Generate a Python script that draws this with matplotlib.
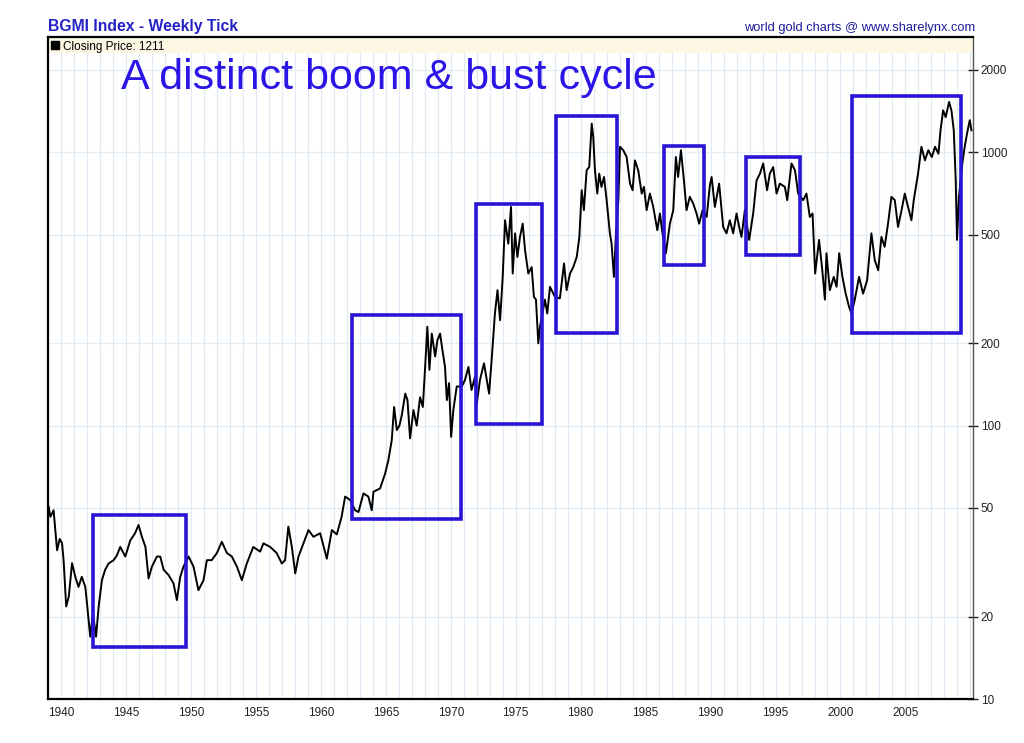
import matplotlib.pyplot as plt
import numpy as np
from matplotlib.patches import Rectangle
from matplotlib.ticker import FixedLocator, NullLocator

plt.rcParams['font.family'] = ['Liberation Sans', 'DejaVu Sans']

# weekly closing price (year, price)
years = [
    1939.05, 1939.18, 1939.43, 1939.7, 1939.9, 1940.08, 1940.2, 1940.4, 1940.6, 1940.85,
    1941.1, 1941.35, 1941.6, 1941.87, 1942.0, 1942.25, 1942.46, 1942.7, 1942.9, 1943.15,
    1943.4, 1943.66, 1944.05, 1944.3, 1944.56, 1944.95, 1945.33, 1945.7, 1945.97, 1946.23,
    1946.5, 1946.74, 1947.0, 1947.38, 1947.64, 1947.9, 1948.28, 1948.66, 1948.92, 1949.18,
    1949.43, 1949.82, 1950.2, 1950.58, 1950.97, 1951.23, 1951.6, 1952.0, 1952.38, 1952.77,
    1953.15, 1953.54, 1953.92, 1954.3, 1954.8, 1955.33, 1955.58, 1956.1, 1956.6, 1957.0,
    1957.25, 1957.5, 1957.77, 1958.03, 1958.28, 1958.66, 1959.05, 1959.43, 1959.95, 1960.46,
    1960.85, 1961.23, 1961.6, 1961.87, 1962.25, 1962.64, 1962.9, 1963.28, 1963.66, 1963.92,
    1964.05, 1964.56, 1964.95, 1965.2, 1965.46, 1965.64, 1965.85, 1966.05, 1966.23, 1966.5,
    1966.67, 1966.87, 1967.13, 1967.38, 1967.64, 1967.85, 1968.03, 1968.2, 1968.36, 1968.54,
    1968.8, 1968.97, 1969.18, 1969.36, 1969.56, 1969.7, 1969.87, 1970.03, 1970.2, 1970.46,
    1970.85, 1971.1, 1971.36, 1971.6, 1971.87, 1972.0, 1972.25, 1972.56, 1972.95, 1973.15,
    1973.4, 1973.6, 1973.8, 1974.0, 1974.18, 1974.43, 1974.64, 1974.77, 1974.95, 1975.13,
    1975.33, 1975.54, 1975.72, 1975.97, 1976.23, 1976.4, 1976.56, 1976.74, 1976.87, 1977.25,
    1977.43, 1977.64, 1978.02, 1978.4, 1978.72, 1978.92, 1979.18, 1979.43, 1979.7, 1979.9,
    1980.08, 1980.25, 1980.46, 1980.66, 1980.85, 1980.97, 1981.1, 1981.28, 1981.43, 1981.6,
    1981.8, 1982.0, 1982.25, 1982.38, 1982.56, 1982.72, 1982.9, 1983.03, 1983.28, 1983.54,
    1983.8, 1984.0, 1984.18, 1984.43, 1984.7, 1984.87, 1985.08, 1985.33, 1985.59, 1985.9,
    1986.1, 1986.3, 1986.56, 1986.87, 1987.13, 1987.33, 1987.5, 1987.72, 1987.95, 1988.15,
    1988.4, 1988.66, 1988.92, 1989.12, 1989.38, 1989.7, 1989.95, 1990.08, 1990.33, 1990.66,
    1990.97, 1991.23, 1991.48, 1991.74, 1992.0, 1992.2, 1992.38, 1992.64, 1992.97, 1993.28,
    1993.54, 1993.8, 1994.05, 1994.35, 1994.56, 1994.82, 1995.08, 1995.33, 1995.72, 1995.9,
    1996.23, 1996.5, 1996.74, 1997.13, 1997.38, 1997.64, 1997.85, 1998.05, 1998.35, 1998.6,
    1998.8, 1998.92, 1999.18, 1999.48, 1999.7, 1999.9, 2000.15, 2000.4, 2000.66, 2000.85,
    2001.1, 2001.43, 2001.74, 2002.05, 2002.38, 2002.64, 2002.9, 2003.15, 2003.4, 2003.66,
    2003.92, 2004.18, 2004.43, 2004.7, 2004.95, 2005.2, 2005.46, 2005.64, 2005.97, 2006.23,
    2006.5, 2006.76, 2007.03, 2007.28, 2007.54, 2007.7, 2007.9, 2008.1, 2008.36, 2008.54,
    2008.72, 2008.87, 2008.97, 2009.12, 2009.38, 2009.56, 2009.74, 2009.95, 2010.08,
]
prices = [
    50.5, 46.4, 49, 35, 38.5, 37.2, 32.2, 21.8, 23.7, 31.4,
    28, 25.7, 28, 25.7, 22.4, 16.9, 20.6, 16.9, 21.8, 27.2,
    29.7, 31.3, 32.2, 33.5, 36, 33.2, 38, 40.4, 43.3, 39.2,
    36, 27.6, 30.5, 33.2, 33.2, 29.7, 28.4, 26.5, 23, 28,
    30.5, 33.2, 30.5, 25, 27.2, 32.2, 32.2, 34.2, 37.6, 34.2,
    33.2, 30.5, 27.2, 31.3, 36, 34.6, 37.1, 36, 34.2, 31.3,
    32.2, 42.7, 36, 28.8, 33.2, 37.1, 41.5, 39.2, 40.4, 32.6,
    41.5, 40, 46.4, 55, 53.5, 49, 48.3, 56.5, 55, 49,
    57.3, 58.9, 66.8, 74.8, 88.5, 117, 96.3, 100, 109, 131,
    124, 89.8, 114, 100, 127, 117, 164, 230, 160, 217,
    179, 205, 217, 189, 164, 124, 143, 91, 114, 139,
    139, 147, 164, 135, 151, 120, 147, 169, 131, 174,
    257, 313, 243, 350, 564, 463, 631, 360, 505, 414,
    490, 548, 438, 360, 380, 296, 289, 200, 230, 289,
    257, 322, 296, 292, 392, 313, 360, 380, 414, 490,
    726, 614, 859, 883, 1273, 1138, 859, 706, 835, 747,
    812, 668, 505, 463, 350, 505, 668, 1047, 1017, 961,
    768, 726, 934, 859, 706, 747, 614, 706, 631, 519,
    597, 505, 427, 548, 614, 961, 812, 1017, 789, 614,
    687, 650, 597, 548, 614, 580, 760, 812, 631, 768,
    533, 505, 564, 505, 597, 533, 490, 614, 478, 597,
    789, 835, 910, 726, 835, 883, 706, 768, 747, 668,
    910, 859, 706, 668, 706, 580, 597, 360, 478, 370,
    289, 427, 313, 350, 322, 427, 350, 304, 272, 257,
    289, 350, 304, 340, 505, 403, 370, 490, 451, 548,
    687, 668, 533, 614, 706, 631, 564, 668, 835, 1047,
    934, 1017, 961, 1047, 988, 1203, 1423, 1345, 1528, 1423,
    1203, 789, 478, 687, 910, 1047, 1170, 1310, 1203,
]

# boom & bust boxes: start year, end year, low, high
box_start = [1942.48, 1962.42, 1971.95, 1978.1, 1986.4, 1992.7, 2000.9]
box_end = [1949.64, 1970.8, 1977.02, 1982.8, 1989.5, 1996.9, 2009.3]
box_low = [15.5, 45.5, 101, 218, 386, 420, 218]
box_high = [47, 254, 645, 1355, 1052, 960, 1603]

x_ticks = list(range(1940, 2010, 5))
y_ticks = [10, 20, 50, 100, 200, 500, 1000, 2000]

fig = plt.figure(figsize=(10.24, 7.43), dpi=100)
ax = fig.add_axes([48 / 1024, 44 / 743, 925 / 1024, 662 / 743])

ax.set_yscale('log')
ax.set_xlim(1939.0, 2010.2)
ax.set_ylim(10, 2640)

# light grid: every year and at the labelled prices
for yr in range(1940, 2011):
    ax.axvline(yr, color='#dfeaf4', lw=0.9, zorder=0)
for yv in y_ticks:
    ax.axhline(yv, color='#e3edf6', lw=0.9, zorder=0)

# beige band behind the legend
ax.axhspan(2300, 2640, color='#fcf7e3', zorder=0.5, lw=0)

ax.plot(years, prices, color='black', lw=1.4, zorder=3)

for x0, x1, lo, hi in zip(box_start, box_end, box_low, box_high):
    ax.add_patch(Rectangle((x0, lo), x1 - x0, hi - lo, fill=False,
                           edgecolor='#2a14d6', lw=2.6, zorder=4))

ax.xaxis.set_major_locator(FixedLocator(x_ticks))
ax.set_xticklabels([str(t) for t in x_ticks])
ax.yaxis.set_major_locator(FixedLocator(y_ticks))
ax.yaxis.set_minor_locator(NullLocator())
ax.set_yticklabels([str(t) for t in y_ticks])
ax.yaxis.tick_right()
ax.tick_params(axis='y', direction='inout', length=7, width=1,
               labelsize=8.5, colors='#222222', pad=2)
ax.tick_params(axis='x', length=0, labelsize=8.5, colors='#222222', pad=6)

for side in ['left', 'bottom', 'top']:
    ax.spines[side].set_color('black')
    ax.spines[side].set_linewidth(1.6)
ax.spines['right'].set_color('#555555')
ax.spines['right'].set_linewidth(1.0)

fig.text(48 / 1024, 1 - 26 / 743, 'BGMI Index - Weekly Tick', color='#2323c4',
         fontsize=11.3, fontweight='bold', va='center', ha='left')
fig.text(975 / 1024, 1 - 28 / 743, 'world gold charts @ www.sharelynx.com',
         color='#1c1c9a', fontsize=9.3, va='center', ha='right')

ax.plot([], [], 's', color='black', ms=6, label='Closing Price: 1211')
ax.legend(loc='upper left', frameon=False, fontsize=8.5, handlelength=0.6,
          handletextpad=0.4, borderaxespad=0.1, borderpad=0.2)

ax.text(0.079, 0.921, 'A distinct boom & bust cycle', transform=ax.transAxes,
        color='#2a14e6', fontsize=31, va='baseline', ha='left', zorder=5)

fig.savefig('out.png', dpi=100, facecolor='white')
